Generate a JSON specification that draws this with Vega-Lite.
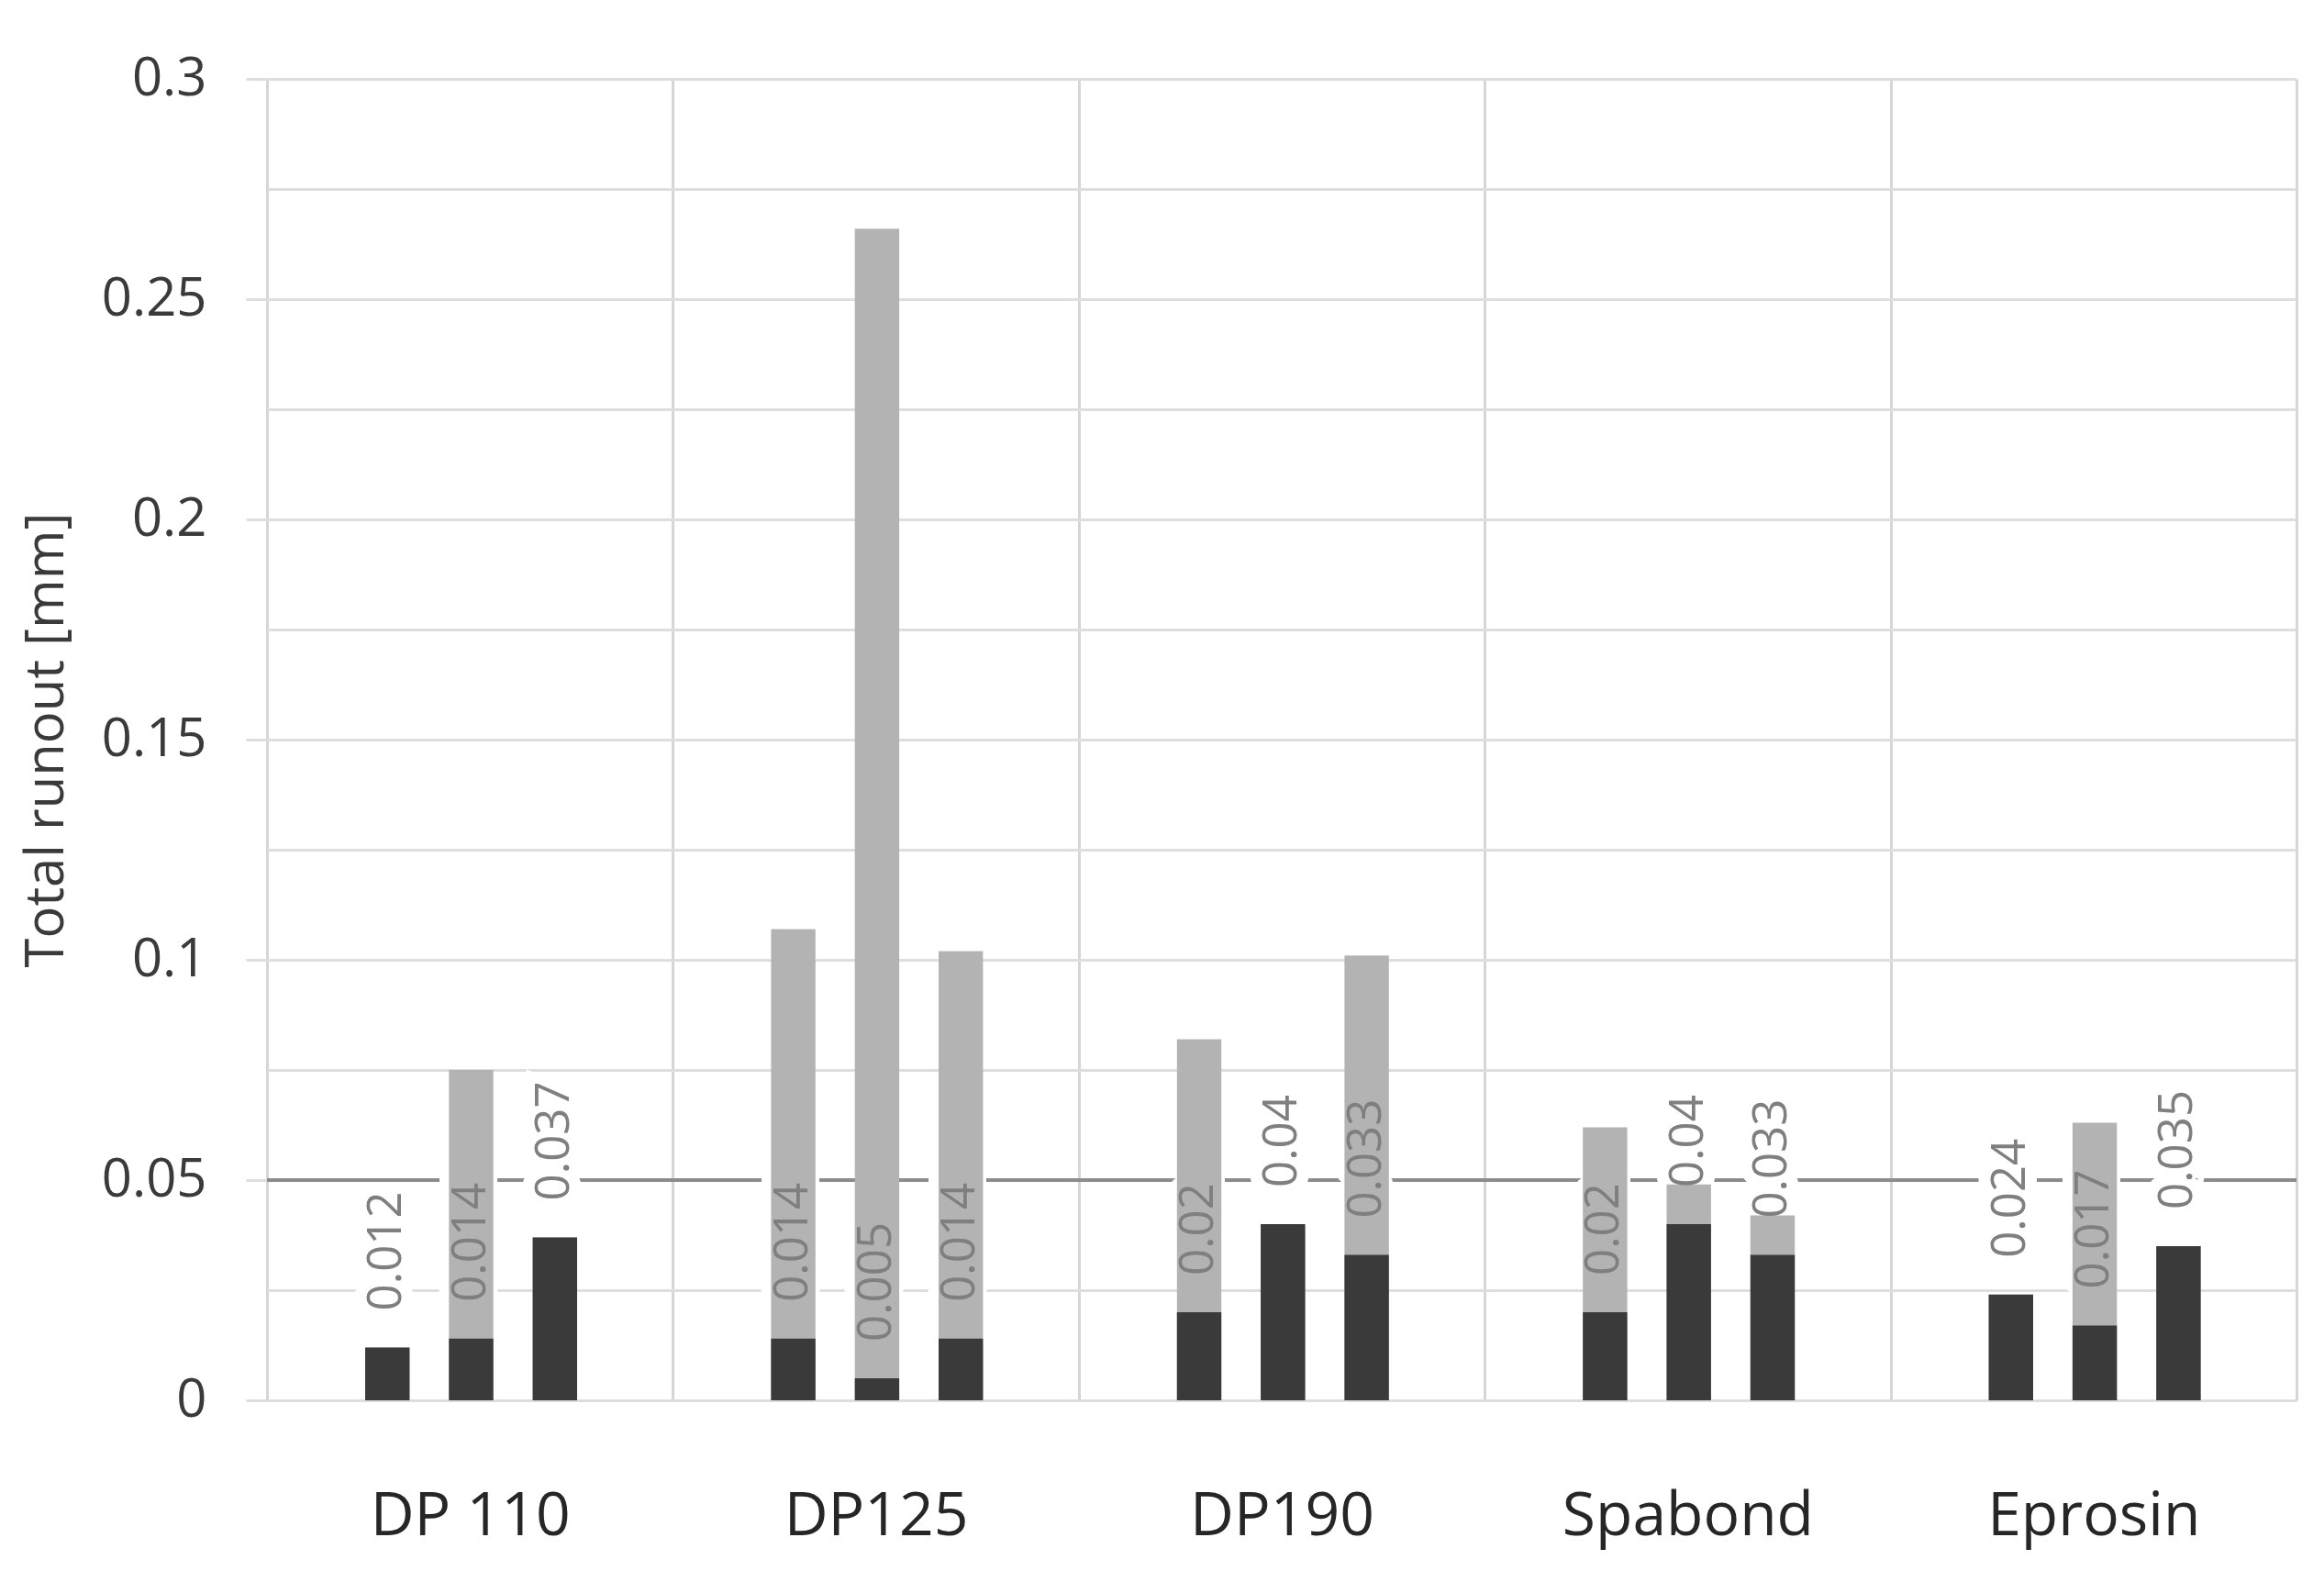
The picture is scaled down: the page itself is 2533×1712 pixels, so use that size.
{
  "$schema": "https://vega.github.io/schema/vega-lite/v6.json",
  "description": "Total runout per adhesive, three samples each",
  "width": 2212,
  "height": 1440,
  "autosize": {"type": "none"},
  "padding": {"left": 291, "top": 86, "right": 30, "bottom": 186},
  "background": "white",
  "config": {"view": {"stroke": null}, "font": "Open Sans"},
  "data": {
    "values": [
      {"adhesive": "DP 110", "sample": "1", "dark": 0.012, "total": 0.012},
      {"adhesive": "DP 110", "sample": "2", "dark": 0.014, "total": 0.075},
      {"adhesive": "DP 110", "sample": "3", "dark": 0.037, "total": 0.037},
      {"adhesive": "DP125", "sample": "1", "dark": 0.014, "total": 0.107},
      {"adhesive": "DP125", "sample": "2", "dark": 0.005, "total": 0.266},
      {"adhesive": "DP125", "sample": "3", "dark": 0.014, "total": 0.102},
      {"adhesive": "DP190", "sample": "1", "dark": 0.02, "total": 0.082},
      {"adhesive": "DP190", "sample": "2", "dark": 0.04, "total": 0.04},
      {"adhesive": "DP190", "sample": "3", "dark": 0.033, "total": 0.101},
      {"adhesive": "Spabond", "sample": "1", "dark": 0.02, "total": 0.062},
      {"adhesive": "Spabond", "sample": "2", "dark": 0.04, "total": 0.049},
      {"adhesive": "Spabond", "sample": "3", "dark": 0.033, "total": 0.042},
      {"adhesive": "Eprosin", "sample": "1", "dark": 0.024, "total": 0.024},
      {"adhesive": "Eprosin", "sample": "2", "dark": 0.017, "total": 0.063},
      {"adhesive": "Eprosin", "sample": "3", "dark": 0.035, "total": 0.035}
    ]
  },
  "layer": [
    {
      "data": {"values": [{"limit": 0.05}]},
      "mark": {"type": "rule", "color": "#8c8c8c", "strokeWidth": 4},
      "encoding": {
        "y": {
          "field": "limit", "type": "quantitative",
          "scale": {"domain": [0, 0.3], "nice": false},
          "axis": {
            "title": "Total runout [mm]",
            "values": [0, 0.025, 0.05, 0.075, 0.1, 0.125, 0.15, 0.175, 0.2, 0.225, 0.25, 0.275, 0.3],
            "labelExpr": "round(datum.value * 1000) % 50 == 0 ? format(datum.value, '~g') : ''",
            "grid": true, "gridColor": "#dedede", "gridWidth": 3,
            "domain": false, "ticks": true, "tickSize": 23, "tickWidth": 3,
            "tickColor": {"condition": {"test": "round(datum.value * 1000) % 50 == 0", "value": "#dedede"}, "value": "transparent"},
            "labelFontSize": 58, "labelColor": "#3a3a3a", "labelPadding": 43, "labelFlush": false,
            "titleFontSize": 58, "titleFontWeight": "normal", "titleColor": "#3a3a3a", "titlePadding": 30
          }
        }
      }
    },
    {
      "mark": {"type": "text", "angle": 270, "align": "left", "baseline": "middle",
               "dx": 40, "fontSize": 51, "fill": "white", "stroke": "white", "strokeWidth": 26},
      "encoding": {
        "x": {"field": "adhesive", "type": "nominal", "sort": null},
        "xOffset": {"field": "sample", "type": "nominal"},
        "y": {"field": "dark", "type": "quantitative"},
        "text": {"field": "dark", "type": "quantitative", "format": "~g"}
      }
    },
    {
      "mark": {"type": "bar", "color": "#b3b3b3"},
      "encoding": {
        "x": {
          "field": "adhesive", "type": "nominal", "sort": null,
          "scale": {"paddingInner": 0, "paddingOuter": 0},
          "axis": {
            "title": null, "labelAngle": 0, "tickBand": "extent", "grid": true,
            "gridColor": "#d6d6d6", "gridWidth": 3, "ticks": false, "domain": false,
            "labelAlign": "center",
            "labelFontSize": 66, "labelColor": "#262626", "labelPadding": 126, "labelLimit": 0
          }
        },
        "xOffset": {"field": "sample", "type": "nominal",
                    "scale": {"range": [107, 338], "paddingInner": 0.47, "paddingOuter": 0}},
        "y": {"field": "total", "type": "quantitative"}
      }
    },
    {
      "mark": {"type": "bar", "color": "#3a3a3a"},
      "encoding": {
        "x": {"field": "adhesive", "type": "nominal", "sort": null},
        "xOffset": {"field": "sample", "type": "nominal"},
        "y": {"field": "dark", "type": "quantitative"}
      }
    },
    {
      "mark": {"type": "text", "angle": 270, "align": "left", "baseline": "middle",
               "dx": 40, "fontSize": 51, "color": "#7f7f7f"},
      "encoding": {
        "x": {"field": "adhesive", "type": "nominal", "sort": null},
        "xOffset": {"field": "sample", "type": "nominal"},
        "y": {"field": "dark", "type": "quantitative"},
        "text": {"field": "dark", "type": "quantitative", "format": "~g"}
      }
    }
  ]
}
